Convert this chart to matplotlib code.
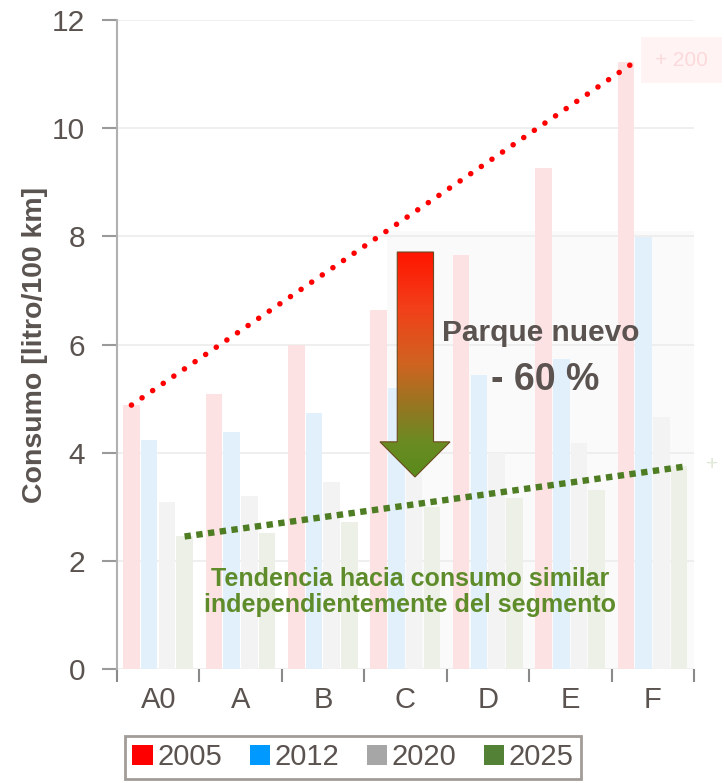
import matplotlib
matplotlib.use("Agg")
import matplotlib.pyplot as plt
import numpy as np
from matplotlib.patches import Patch, Polygon, Rectangle
from matplotlib.colors import LinearSegmentedColormap

plt.rcParams['font.family'] = ['Liberation Sans', 'DejaVu Sans']

# consumo por segmento [litro/100 km]
segmentos = ['A0', 'A', 'B', 'C', 'D', 'E', 'F']
anios = ['2005', '2012', '2020', '2025']
c2005 = [4.88, 5.08, 6.00, 6.64, 7.65, 9.26, 11.22]
c2012 = [4.23, 4.38, 4.73, 5.20, 5.44, 5.73, 7.99]
c2020 = [3.09, 3.20, 3.46, 3.85, 3.99, 4.18, 4.66]
c2025 = [2.45, 2.51, 2.72, 3.00, 3.16, 3.31, 3.75]
series = [c2005, c2012, c2020, c2025]

col_leg = ['#ff0000', '#0099ff', '#a6a6a6', '#538135']
col_bar = ['#fde2e3', '#e2f0fc', '#f3f3f3', '#edf0e7']
txt_col = '#5a5350'

fig = plt.figure(figsize=(7.24, 7.83), dpi=100)
ax = fig.add_axes([117/724, 114/783, 577/724, 649/783])

x = np.arange(len(segmentos))
offs = [-0.325, -0.11, 0.105, 0.32]
w = 0.2
for vals, off, c in zip(series, offs, col_bar):
    ax.bar(x + off, vals, w, color=c, zorder=2)

# fondo gris tenue a la derecha
ax.add_patch(Rectangle((2.78, 0), 3.72, 8.1, color='#fafafa', zorder=0, lw=0))

# lineas de tendencia
ax.plot([x[0] + offs[0], x[-1] + offs[0] + w/2], [c2005[0], c2005[-1]],
        color='#ff0000', lw=4.0, ls=(0, (0.01, 2.3)), dash_capstyle='round',
        solid_capstyle='round', zorder=4)
ax.plot([x[0] + offs[3], x[-1] + offs[3] + w/2], [c2025[0], c2025[-1]],
        color='#4e7d23', lw=4.6, ls=(0, (1.0, 0.85)), zorder=4)

# flecha con degradado rojo -> verde
sx0, sx1, hx0, hx1 = 2.90, 3.34, 2.69, 3.54
ytop, ybase, ytip = 7.71, 4.20, 3.55
xc = (hx0 + hx1) / 2
pts = [(sx0, ytop), (sx1, ytop), (sx1, ybase), (hx1, ybase), (xc, ytip),
       (hx0, ybase), (sx0, ybase)]
arrow = Polygon(pts, closed=True, facecolor='none', edgecolor='#6b4a20',
                lw=0.8, zorder=6)
ax.add_patch(arrow)
cmap = LinearSegmentedColormap.from_list('rv', [
    (0.0, '#ff1500'), (0.25, '#f2401a'), (0.5, '#cf6420'),
    (0.72, '#8c7a22'), (0.85, '#6a8c22'), (1.0, '#5a8a1c')])
grad = np.linspace(0, 1, 256).reshape(-1, 1)
im = ax.imshow(grad, cmap=cmap, aspect='auto', extent=(hx0, hx1, ytip, ytop),
               origin='upper', zorder=5)
im.set_clip_path(arrow)

# textos
ax.text(4.64, 6.21, 'Parque nuevo', ha='center', va='center', fontsize=21.5,
        fontweight='bold', color=txt_col, zorder=7)
ax.text(4.70, 5.34, '- 60 %', ha='center', va='center', fontsize=27,
        fontweight='bold', color=txt_col, zorder=7)
ax.text(3.06, 1.42, 'Tendencia hacia consumo similar\nindependientemente del segmento',
        ha='center', va='center', fontsize=18, fontweight='bold',
        color='#5e8c2a', linespacing=1.1, zorder=7)

ax.set_xlim(-0.5, 6.5)
ax.set_ylim(0, 12)
ax.set_yticks(np.arange(0, 13, 2))
ax.set_xticks(x)
ax.set_xticklabels(segmentos)
ax.set_xticks(np.arange(-0.5, 7, 1), minor=True)
ax.tick_params(axis='x', which='major', length=0, labelsize=21,
               labelcolor=txt_col, pad=12)
ax.tick_params(axis='x', which='minor', length=9, width=1.5, color='#8a8a8a',
               direction='out')
ax.tick_params(axis='y', length=11, width=1.5, color='#9a9a9a', labelsize=21.5,
               labelcolor=txt_col, pad=12)
ax.yaxis.grid(True, color='#ececec', lw=1.2, zorder=1)
ax.set_axisbelow(True)
for s in ['top', 'right', 'bottom']:
    ax.spines[s].set_visible(False)
ax.spines['left'].set_color('#b0b0b0')
ax.spines['left'].set_linewidth(1.5)
ax.set_ylabel('Consumo [litro/100 km]', fontsize=20.5, fontweight='bold',
              color=txt_col, labelpad=3)

# etiquetas tenues a la derecha
fig.text(655/724, 1 - 60/783, '+ 200', fontsize=15, color='#fcd9da',
         va='center', ha='left',
         bbox=dict(facecolor='#fff3f3', edgecolor='none', pad=10))
fig.text(706/724, 1 - 465/783, '+', fontsize=15, color='#dfe7d6',
         va='center', ha='left')

handles = [Patch(facecolor=c, edgecolor='none') for c in col_leg]
leg = fig.legend(handles, anios, loc='upper center', ncol=4,
                 bbox_to_anchor=(353/724, 1 - 736/783), fontsize=21,
                 frameon=True, fancybox=False, handlelength=0.7,
                 handleheight=0.7, handletextpad=0.15, columnspacing=0.95,
                 borderpad=0.25, borderaxespad=0)
leg.get_frame().set_edgecolor('#8b837e')
leg.get_frame().set_linewidth(2)
for t in leg.get_texts():
    t.set_color(txt_col)

fig.savefig('out.png', dpi=100)
